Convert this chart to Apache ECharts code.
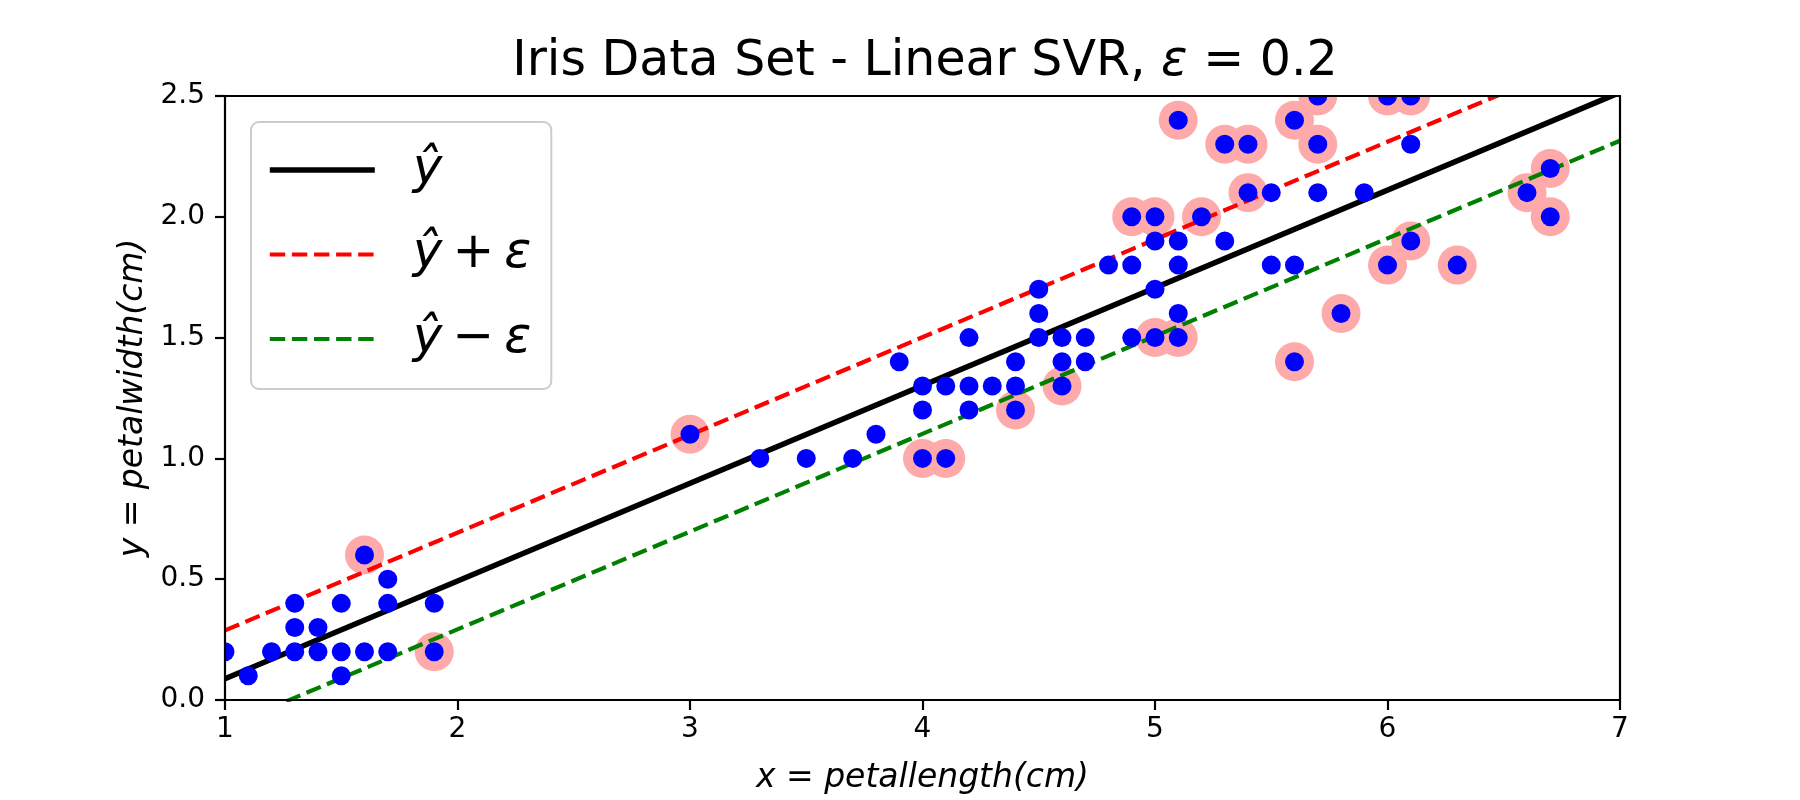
<!DOCTYPE html>
<html>
<head>
<meta charset="utf-8">
<script src="https://cdn.jsdelivr.net/npm/echarts@6/dist/echarts.min.js"></script>
<style>
html,body{margin:0;padding:0;background:#fff;}
#chart{width:1800px;height:800px;}
</style>
</head>
<body>
<div id="chart"></div>
<script>
// ---- data ----
const pointX = [1.0,1.1,1.2,1.3,1.3,1.3,1.4,1.4,1.5,1.5,1.5,1.6,1.6,1.7,1.7,1.7,1.9,1.9,
  3.0,3.3,3.5,3.7,3.8,3.9,4.0,4.0,4.0,4.1,4.1,4.2,4.2,4.2,4.3,4.4,4.4,4.4,4.5,4.5,4.5,
  4.6,4.6,4.6,4.7,4.7,4.8,4.9,4.9,4.9,5.0,5.0,5.0,5.0,5.1,5.1,5.1,5.1,5.1,5.2,5.3,5.3,
  5.4,5.4,5.5,5.5,5.6,5.6,5.6,5.7,5.7,5.7,5.8,5.9,6.0,6.0,6.1,6.1,6.1,6.3,6.6,6.7,6.7];
const pointY = [0.2,0.1,0.2,0.2,0.3,0.4,0.2,0.3,0.1,0.2,0.4,0.2,0.6,0.2,0.4,0.5,0.2,0.4,
  1.1,1.0,1.0,1.0,1.1,1.4,1.0,1.2,1.3,1.0,1.3,1.2,1.3,1.5,1.3,1.2,1.3,1.4,1.5,1.6,1.7,
  1.3,1.4,1.5,1.4,1.5,1.8,1.5,1.8,2.0,1.5,1.7,1.9,2.0,1.5,1.6,1.8,1.9,2.4,2.0,1.9,2.3,
  2.1,2.3,1.8,2.1,1.4,1.8,2.4,2.1,2.3,2.5,1.6,2.1,1.8,2.5,1.9,2.3,2.5,1.8,2.1,2.0,2.2];
// highlighted (support-vector) points
const svX = [1.6,1.9,3.0,4.0,4.1,4.4,4.6,4.9,5.0,5.0,5.1,5.1,5.2,5.3,5.4,5.4,5.6,5.6,5.7,5.7,5.8,6.0,6.0,6.1,6.1,6.3,6.6,6.7,6.7];
const svY = [0.6,0.2,1.1,1.0,1.0,1.2,1.3,2.0,1.5,2.0,1.5,2.4,2.0,2.3,2.1,2.3,1.4,2.4,2.3,2.5,1.6,1.8,2.5,1.9,2.5,1.8,2.1,2.0,2.2];
// regression lines (end points)
const lineX = [1, 7];
const fitY = [0.088, 2.515];
const upperY = [0.288, 2.715];
const lowerY = [-0.112, 2.315];
// axis ticks
const xTicks = {min: 1, max: 7, step: 1};
const yTicks = {min: 0, max: 2.5, step: 0.5};
const seriesNames = ['ŷ', 'ŷ\u2009+\u2009ε', 'ŷ\u2009\u2212\u2009ε'];

const zip = (a, b) => a.map((v, i) => [v, b[i]]);

const G = {left: 225, right: 180, top: 96, bottom: 100};
const FONT = 'DejaVu Sans';
const axisLineStyle = {color: '#000', width: 2.2};
const lineStyles = [
  {color: '#000000', width: 5.6, type: 'solid'},
  {color: '#ff0000', width: 4.2, type: [15.4, 6.7]},
  {color: '#008000', width: 4.2, type: [15.4, 6.7]}
];

const chart = echarts.init(document.getElementById('chart'), null, {renderer: 'canvas'});

const commonX = {type: 'value', min: xTicks.min, max: xTicks.max, interval: xTicks.step, splitLine: {show: false}, z: 10};
const commonY = {type: 'value', min: yTicks.min, max: yTicks.max, interval: yTicks.step, splitLine: {show: false}, z: 10};

chart.setOption({
  animation: false,
  backgroundColor: '#fff',
  title: {
    text: '{a|Iris Data Set - Linear SVR, }{b|ε}{a| = 0.2}',
    left: 925,
    textAlign: 'center',
    top: 38,
    padding: 0,
    z: 10,
    textStyle: {
      fontWeight: 'normal',
      rich: {
        a: {fontFamily: FONT, fontSize: 49, fontWeight: 'normal', color: '#000'},
        b: {fontFamily: FONT, fontSize: 49, fontWeight: 'normal', fontStyle: 'italic', color: '#000'}
      }
    }
  },
  grid: {left: G.left, right: G.right, top: G.top, bottom: G.bottom, containLabel: false},
  xAxis: [
    Object.assign({}, commonX, {
      position: 'bottom',
      axisLine: {show: true, onZero: false, lineStyle: axisLineStyle},
      axisTick: {show: true, inside: false, length: 10, lineStyle: axisLineStyle},
      axisLabel: {show: true, fontFamily: FONT, fontSize: 28, color: '#000', margin: 16, showMinLabel: true, showMaxLabel: true},
      name: 'x = petallength(cm)',
      nameLocation: 'middle',
      nameGap: 62,
      nameTextStyle: {fontFamily: FONT, fontSize: 33, fontStyle: 'italic', color: '#000'}
    }),
    Object.assign({}, commonX, {
      position: 'top',
      axisLine: {show: true, onZero: false, lineStyle: axisLineStyle},
      axisTick: {show: false},
      axisLabel: {show: false}
    })
  ],
  yAxis: [
    Object.assign({}, commonY, {
      position: 'left',
      axisLine: {show: true, onZero: false, lineStyle: axisLineStyle},
      axisTick: {show: true, inside: false, length: 10, lineStyle: axisLineStyle},
      axisLabel: {show: true, fontFamily: FONT, fontSize: 28, color: '#000', margin: 20,
        showMinLabel: true, showMaxLabel: true, formatter: v => v.toFixed(1)},
      name: 'y = petalwidth(cm)',
      nameLocation: 'middle',
      nameRotate: 90,
      nameGap: 72,
      nameTextStyle: {fontFamily: FONT, fontSize: 33, fontStyle: 'italic', color: '#000'}
    }),
    Object.assign({}, commonY, {
      position: 'right',
      axisLine: {show: true, onZero: false, lineStyle: axisLineStyle},
      axisTick: {show: false},
      axisLabel: {show: false}
    })
  ],
  legend: {
    data: seriesNames.map((n, i) => ({name: n, lineStyle: lineStyles[i], itemStyle: {color: lineStyles[i].color, opacity: 0}})),
    orient: 'vertical',
    left: 251,
    top: 122,
    padding: [18, 20, 20, 16],
    itemWidth: 105,
    itemHeight: 2,
    itemGap: 24.5,
    selectedMode: false,
    backgroundColor: 'rgba(255,255,255,0.8)',
    borderColor: '#cccccc',
    borderWidth: 2,
    borderRadius: 8,
    z: 6,
    textStyle: {fontFamily: FONT, fontSize: 50, fontStyle: 'italic', color: '#000', lineHeight: 60, padding: [0, 0, 0, 33]}
  },
  graphic: {
    elements: [
      {type: 'rect', z: 5, silent: true, shape: {x: 0, y: 0, width: 1800, height: G.top}, style: {fill: '#fff'}},
      {type: 'rect', z: 5, silent: true, shape: {x: 0, y: 0, width: G.left, height: 800}, style: {fill: '#fff'}}
    ]
  },
  series: [
    {
      name: 'sv', type: 'scatter', data: zip(svX, svY), symbol: 'circle', symbolSize: 39,
      itemStyle: {color: '#ffaaaa', opacity: 1}, z: 1, silent: true, clip: false
    },
    {
      name: seriesNames[0], type: 'line', data: zip(lineX, fitY), symbol: 'none', clip: true,
      lineStyle: lineStyles[0], itemStyle: {color: lineStyles[0].color}, z: 2, silent: true
    },
    {
      name: seriesNames[1], type: 'line', data: zip(lineX, upperY), symbol: 'none', clip: true,
      lineStyle: lineStyles[1], itemStyle: {color: lineStyles[1].color}, z: 2, silent: true
    },
    {
      name: seriesNames[2], type: 'line', data: zip(lineX, lowerY), symbol: 'none', clip: true,
      lineStyle: lineStyles[2], itemStyle: {color: lineStyles[2].color}, z: 2, silent: true
    },
    {
      name: 'points', type: 'scatter', data: zip(pointX, pointY), symbol: 'circle', symbolSize: 19,
      itemStyle: {color: '#0000ff', opacity: 1}, z: 3, silent: true, clip: false
    }
  ]
});
</script>
</body>
</html>
